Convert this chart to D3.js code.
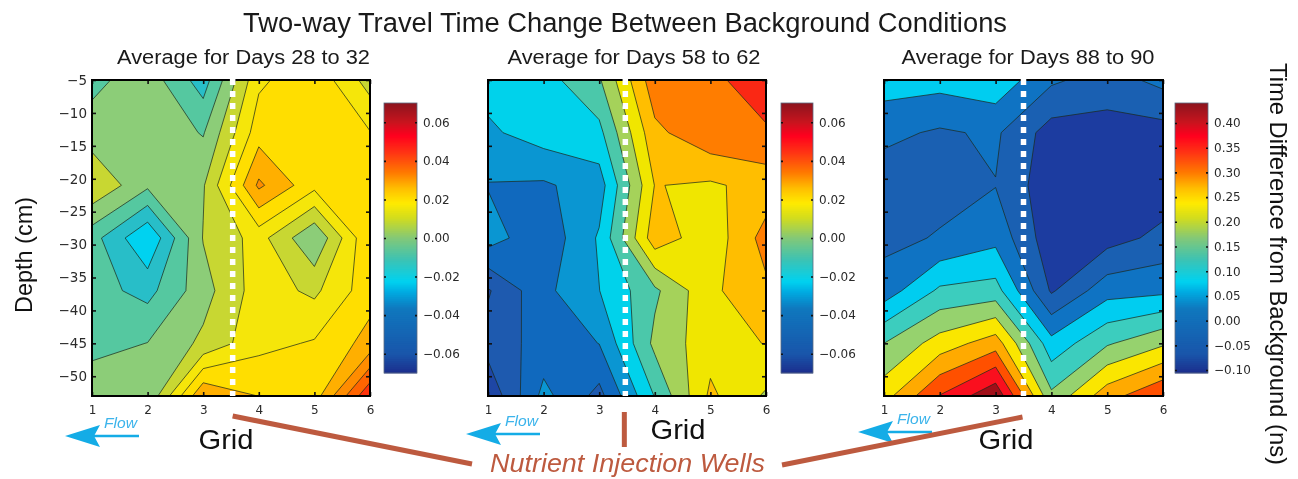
<!DOCTYPE html>
<html>
<head>
<meta charset="utf-8">
<script src="https://cdnjs.cloudflare.com/ajax/libs/d3/7.8.5/d3.min.js"></script>
<style>
  html, body { margin: 0; padding: 0; background: #fff; }
  svg { display: block; filter: blur(0.45px); }
  .tick text { font-family: "DejaVu Sans", sans-serif; font-size: 12px; fill: #2a2a2a; }
  .depth .tick text { font-size: 13.5px; }
  .tick line { stroke: #111; stroke-width: 1.6px; }
  .domain { display: none; }
</style>
</head>
<body>
<div id="chart"></div>
<script>
/**
 * DATA
 * */
const gridCols = [1, 2, 3, 4, 5, 6];
const depthRows = [-5, -13, -21, -29, -37, -45, -53];
const depthTicks = [-5, -10, -15, -20, -25, -30, -35, -40, -45, -50];

const panelTitles = ["Average for Days 28 to 32", "Average for Days 58 to 62", "Average for Days 88 to 90"];

// one inner array per grid column, top to bottom
const days28 = [
  [-0.00593, -0.00023, 0.0105, -0.00825, -0.00825, -0.00675, 0.00225],
  [0.0006, 0.00225, -0.00225, -0.02588, -0.01373, -0.0036, -0.003],
  [-0.015, -0.00435, 0.003, 0.00413, 0.00075, 0.0054, 0.03323],
  [0.01725, 0.02295, 0.03525, 0.01425, 0.015, 0.0165, 0.0261],
  [0.02438, 0.024, 0.021, -0.00323, 0.00968, 0.0195, 0.0225],
  [0.00788, 0.01913, 0.02325, 0.02588, 0.02325, 0.02903, 0.0555]
];
const days58 = [
  [-0.0234, -0.0301, -0.0401, -0.0343, -0.0637, -0.0579, -0.0717],
  [-0.0212, -0.0223, -0.0412, -0.0479, -0.0426, -0.0464, -0.0361],
  [-0.0064, -0.0198, -0.0336, -0.0266, -0.0282, -0.0393, -0.0547],
  [0.0369, 0.0266, 0.0184, 0.0249, -0.0073, -0.0021, -0.0159],
  [0.0393, 0.0384, 0.0162, 0.0105, 0.0155, 0.0134, 0.0203],
  [0.045, 0.0401, 0.0225, 0.0341, 0.0272, 0.0184, 0.0048]
];
const days88 = [
  [0.085, 0.0225, -0.018, -0.0035, 0.0325, 0.16, 0.24],
  [0.079, 0.00325, -0.007, 0.014, 0.119, 0.2325, 0.3625],
  [0.0945, 0.018, 0.0085, 0.045, 0.13, 0.2865, 0.45],
  [0.0185, -0.0625, -0.075, -0.0725, -0.0465, 0.0775, 0.171],
  [-0.012, -0.0615, -0.0725, -0.06, 0.0405, 0.154, 0.29],
  [0.025, -0.061, -0.07, -0.026, 0.0485, 0.2025, 0.3575]
];

const levels28 = [-0.01875, -0.01125, -0.00375, 0.00375, 0.01125, 0.01875, 0.02625, 0.03375, 0.04125, 0.04875];
const levels58 = [-0.0625, -0.051, -0.0395, -0.028, -0.0165, -0.005, 0.0065, 0.018, 0.0295, 0.041];
const levels88 = [-0.04, 0.01, 0.06, 0.11, 0.16, 0.21, 0.26, 0.31, 0.36, 0.41];

// fill of each band, lowest first
const bands28 = ["#00d2f0", "#28bec8", "#55c8a0", "#8ccd78", "#c8d732", "#f5e60a", "#ffde00", "#ffaf00", "#ff8c00", "#ff6400", "#ff320a"];
const bands58 = ["#1e46a5", "#1e5aaf", "#1069be", "#0a96d2", "#00d2eb", "#4bc8aa", "#a5d25a", "#f0e600", "#ffbe00", "#ff7d00", "#fa2814"];
const bands88 = ["#1c3ca0", "#1a60b2", "#0f73c3", "#00cdf0", "#3ccdbe", "#96d26e", "#fae600", "#ffaa00", "#ff5000", "#fa0f1e", "#a00f19"];

// colorbar colormap, position along the bar 0 (bottom) to 1 (top)
const cmapStops = [0, 0.07, 0.24, 0.3, 0.34, 0.42, 0.5, 0.575, 0.63, 0.685, 0.745, 0.82, 0.88, 0.93, 1];
const cmapColors = ["#1c2d8c", "#1955aa", "#0f78be", "#00aae1", "#00d2f0", "#3cc3b4", "#82c878", "#d2dc1e", "#ffeb00", "#ffbe00", "#ff7800", "#ff3214", "#ff001e", "#c8141e", "#8c141e"];

const barDomain28 = [-0.07, 0.07];
const barDomain88 = [-0.106, 0.4405];
const barTicks58 = [-0.06, -0.04, -0.02, 0, 0.02, 0.04, 0.06];
const barTicks88 = [-0.1, -0.05, 0, 0.05, 0.1, 0.15, 0.2, 0.25, 0.3, 0.35, 0.4];

/**
 * LAYOUT
 * */
const width = 1298, height = 479;
const plotTop = 80, plotBottom = 396, barTop = 103, barBottom = 373;

const panels = [
  { title: panelTitles[0], grid: days28, levels: levels28, bands: bands28, left: 92, right: 370, barLeft: 384, barRight: 417,
    barDomain: barDomain28, barTicks: barTicks58, well: 3.53, titleX: 243.5, grid_x: 226, grid_y: 449, flowTail: 139, flowY: 436 },
  { title: panelTitles[1], grid: days58, levels: levels58, bands: bands58, left: 488, right: 766, barLeft: 781, barRight: 813,
    barDomain: barDomain28, barTicks: barTicks58, well: 3.47, titleX: 634, grid_x: 678, grid_y: 439, flowTail: 540, flowY: 434 },
  { title: panelTitles[2], grid: days88, levels: levels88, bands: bands88, left: 884, right: 1163, barLeft: 1175, barRight: 1208,
    barDomain: barDomain88, barTicks: barTicks88, well: 3.5, titleX: 1028, grid_x: 1006, grid_y: 449, flowTail: 932, flowY: 432 }
];

const brown = "#bd5a3f", flowBlue = "#14ace6";
const cmap = d3.scaleLinear().domain(cmapStops).range(cmapColors);

const svg = d3.select("#chart").append("svg")
  .attr("width", width)
  .attr("height", height);

const defs = svg.append("defs");

// main title
svg.append("text")
  .attr("x", 243).attr("y", 32)
  .attr("textLength", 764).attr("lengthAdjust", "spacingAndGlyphs")
  .style("font", "27px 'Liberation Sans', sans-serif").style("fill", "#1a1a1a")
  .text("Two-way Travel Time Change Between Background Conditions");

panels.forEach((p, i) => {
  const x = d3.scaleLinear().domain([1, 6]).range([p.left, p.right]);
  const y = d3.scaleLinear().domain([-5, -53]).range([plotTop, plotBottom]);

  // subplot title
  svg.append("text")
    .attr("x", p.titleX).attr("y", 64).attr("text-anchor", "middle")
    .attr("textLength", 253).attr("lengthAdjust", "spacingAndGlyphs")
    .style("font", "20px 'Liberation Sans', sans-serif").style("fill", "#1a1a1a")
    .text(p.title);

  // contour fill, d3.contours puts node i at i + 0.5
  const flat = [];
  depthRows.forEach((d, r) => gridCols.forEach((c, k) => flat.push(p.grid[k][r])));
  const contours = d3.contours().size([gridCols.length, depthRows.length]).thresholds(p.levels)(flat);
  const path = d3.geoPath(d3.geoTransform({
    point(cx, cy) {
      this.stream.point(x(cx + 0.5), y(-5 - (cy - 0.5) * 8));
    }
  }));

  defs.append("clipPath").attr("id", `clip${i}`)
    .append("rect")
    .attr("x", p.left).attr("y", plotTop)
    .attr("width", p.right - p.left).attr("height", plotBottom - plotTop);

  const plot = svg.append("g").attr("clip-path", `url(#clip${i})`);
  plot.append("rect")
    .attr("x", p.left).attr("y", plotTop)
    .attr("width", p.right - p.left).attr("height", plotBottom - plotTop)
    .attr("fill", p.bands[0]);
  plot.selectAll("path")
    .data(contours)
    .join("path")
    .attr("d", path)
    .attr("fill", (d, k) => p.bands[k + 1])
    .attr("stroke", "#1c2a1c")
    .attr("stroke-opacity", 0.8)
    .attr("stroke-width", 0.9);

  // axes, ticks point inwards
  const axisLeft = d3.axisLeft(y).tickValues(depthTicks).tickSize(-4).tickPadding(5);
  if (i > 0) axisLeft.tickFormat("");
  svg.append("g").attr("class", "depth").attr("transform", `translate(${p.left},0)`).call(axisLeft);
  svg.append("g").attr("transform", `translate(${p.right},0)`)
    .call(d3.axisRight(y).tickValues(depthTicks).tickSize(-4).tickFormat(""));
  svg.append("g").attr("transform", `translate(0,${plotBottom})`)
    .call(d3.axisBottom(x).tickValues(gridCols).tickSize(-4).tickPadding(9).tickFormat(d3.format("d")));
  svg.append("g").attr("transform", `translate(0,${plotTop})`)
    .call(d3.axisTop(x).tickValues(gridCols).tickSize(-4).tickFormat(""));

  svg.append("rect")
    .attr("x", p.left).attr("y", plotTop)
    .attr("width", p.right - p.left).attr("height", plotBottom - plotTop)
    .attr("fill", "none").attr("stroke", "#000").attr("stroke-width", 2);

  // well position
  svg.append("line")
    .attr("x1", x(p.well)).attr("x2", x(p.well))
    .attr("y1", plotTop - 1).attr("y2", plotBottom)
    .attr("stroke", "#fff").attr("stroke-width", 5.5)
    .attr("stroke-dasharray", "6 6");

  // colorbar
  const bar = d3.scaleLinear().domain(p.barDomain).range([barBottom, barTop]);
  const steps = d3.range(135);
  svg.append("g").selectAll("rect")
    .data(steps)
    .join("rect")
    .attr("x", p.barLeft)
    .attr("y", d => barBottom - (d + 1) * 2)
    .attr("width", p.barRight - p.barLeft)
    .attr("height", 2.4)
    .attr("fill", d => cmap((d + 0.5) / steps.length));
  svg.append("rect")
    .attr("x", p.barLeft).attr("y", barTop)
    .attr("width", p.barRight - p.barLeft).attr("height", barBottom - barTop)
    .attr("fill", "none").attr("stroke", "#5a6a80").attr("stroke-width", 0.8);
  svg.append("g").attr("transform", `translate(${p.barRight},0)`)
    .call(d3.axisRight(bar).tickValues(p.barTicks).tickSize(-2).tickPadding(6).tickFormat(d3.format(".2f")));
  svg.append("g").attr("transform", `translate(${p.barLeft},0)`)
    .call(d3.axisLeft(bar).tickValues(p.barTicks).tickSize(-2).tickFormat(""));

  // x label
  svg.append("text")
    .attr("x", p.grid_x).attr("y", p.grid_y).attr("text-anchor", "middle")
    .attr("textLength", 55).attr("lengthAdjust", "spacingAndGlyphs")
    .style("font", "28px 'Liberation Sans', sans-serif").style("fill", "#111")
    .text("Grid");

  // flow arrow
  const tail = p.flowTail, fy = p.flowY, tip = tail - 74;
  svg.append("line")
    .attr("x1", tip + 20).attr("x2", tail).attr("y1", fy).attr("y2", fy)
    .attr("stroke", flowBlue).attr("stroke-width", 2.6);
  svg.append("path")
    .attr("d", `M${tip},${fy}L${tip + 35},${fy - 11}L${tip + 29},${fy}L${tip + 35},${fy + 11}Z`)
    .attr("fill", flowBlue);
  svg.append("text")
    .attr("x", tail - 35).attr("y", fy - 8)
    .attr("textLength", 33).attr("lengthAdjust", "spacingAndGlyphs")
    .style("font", "italic 15px 'Liberation Sans', sans-serif").style("fill", "#3cb4eb")
    .text("Flow");
});

// y label
svg.append("text")
  .attr("transform", "translate(32,255) rotate(-90)").attr("text-anchor", "middle")
  .attr("textLength", 116).attr("lengthAdjust", "spacingAndGlyphs")
  .style("font", "24px 'Liberation Sans', sans-serif").style("fill", "#111")
  .text("Depth (cm)");

// colorbar label, reads downwards
svg.append("text")
  .attr("transform", "translate(1270,264) rotate(90)").attr("text-anchor", "middle")
  .attr("textLength", 402).attr("lengthAdjust", "spacingAndGlyphs")
  .style("font", "24.5px 'Liberation Sans', sans-serif").style("fill", "#111")
  .text("Time Difference from Background (ns)");

// nutrient injection callout
const wellX = panels.map(p => d3.scaleLinear().domain([1, 6]).range([p.left, p.right])(p.well));
const callouts = [
  [wellX[0], 416, 472, 464],
  [wellX[1] - 1, 412, wellX[1] - 1, 447],
  [wellX[2] - 1, 417, 782, 465]
];
svg.selectAll(".callout")
  .data(callouts)
  .join("line")
  .attr("class", "callout")
  .attr("x1", d => d[0]).attr("y1", d => d[1])
  .attr("x2", d => d[2]).attr("y2", d => d[3])
  .attr("stroke", brown).attr("stroke-width", 5);

svg.append("text")
  .attr("x", 490).attr("y", 472)
  .attr("textLength", 275).attr("lengthAdjust", "spacingAndGlyphs")
  .style("font", "italic 26px 'Liberation Sans', sans-serif").style("fill", brown)
  .text("Nutrient Injection Wells");
</script>
</body>
</html>
